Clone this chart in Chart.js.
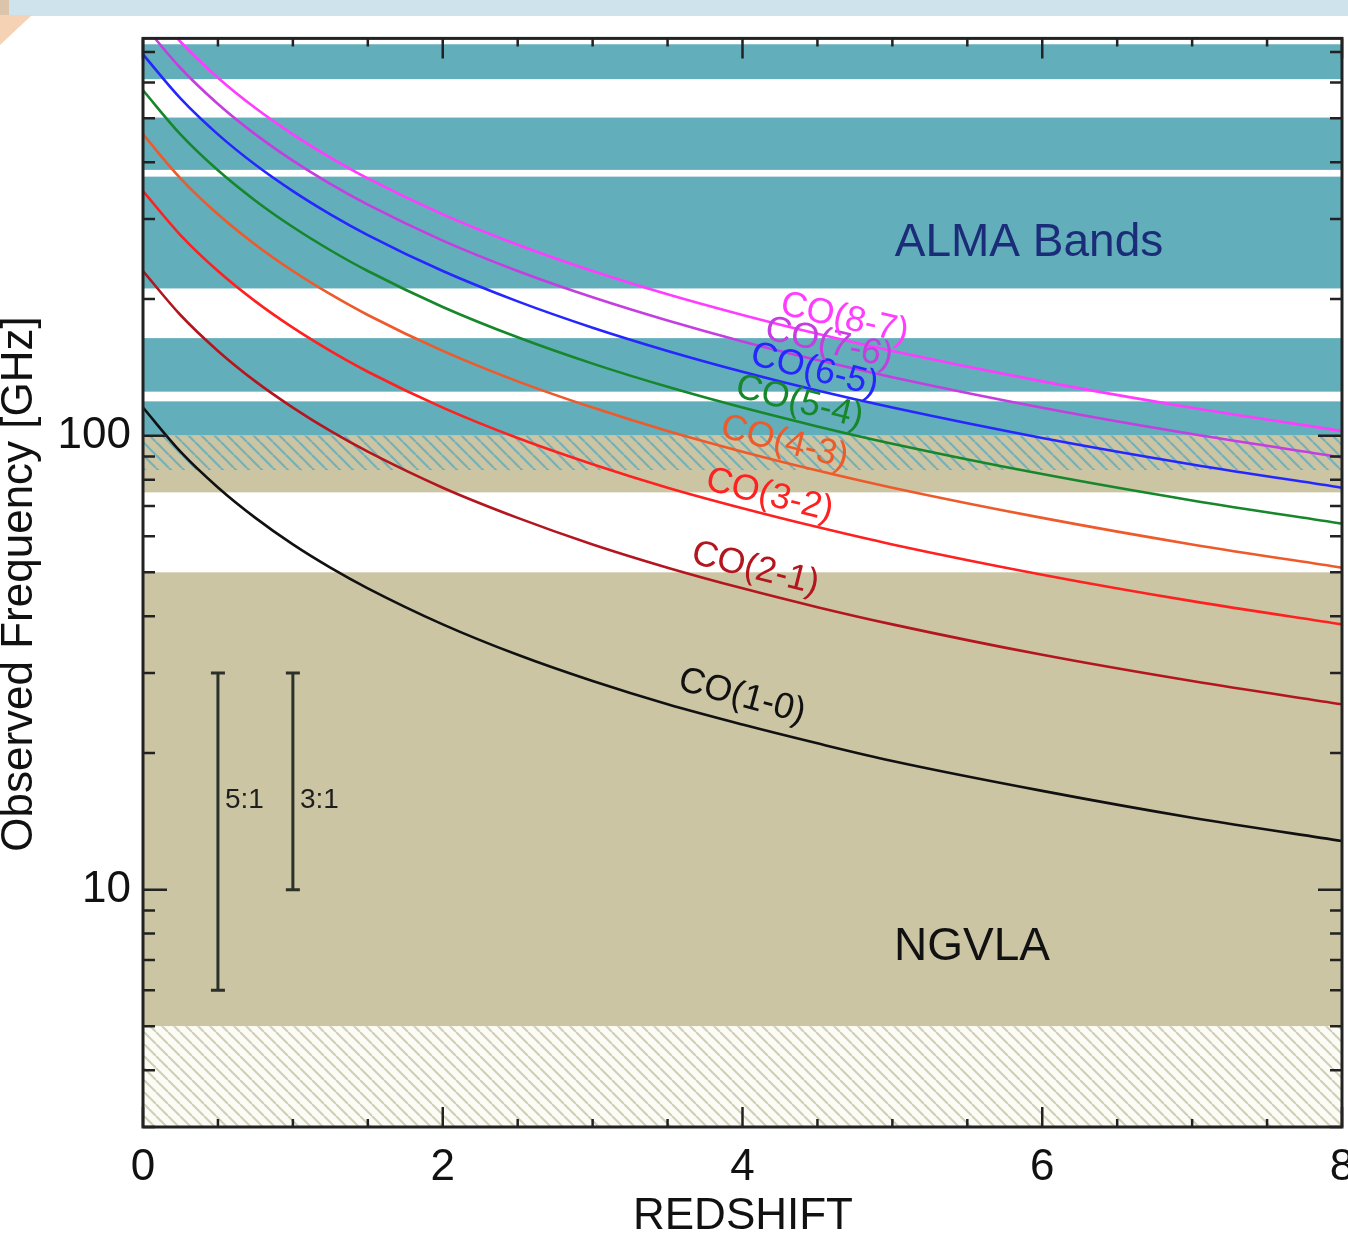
<!DOCTYPE html>
<html>
<head>
<meta charset="utf-8">
<title>CO ladder vs redshift</title>
<script src="https://cdn.jsdelivr.net/npm/chart.js@4.4.1/dist/chart.umd.min.js"></script>
<style>
body { margin: 0; background: #fff; }
#wrap { position: relative; width: 1348px; height: 1233px; }
</style>
</head>
<body>
<div id="wrap"><canvas id="chart"></canvas></div>
<script>
// redshift grid the CO tracks are read at
const redshifts = [0, 0.25, 0.5, 0.75, 1, 1.25, 1.5, 2, 2.5, 3, 3.5, 4, 4.5, 5, 6, 7, 8];
// observed frequency [GHz] of each CO transition
const co10 = [115.3, 92.2, 76.9, 65.9, 57.6, 51.2, 46.1, 38.4, 32.9, 28.8, 25.6, 23.1, 21.0, 19.2, 16.5, 14.4, 12.8];
const co21 = [230.5, 184.4, 153.7, 131.7, 115.3, 102.4, 92.2, 76.8, 65.9, 57.6, 51.2, 46.1, 41.9, 38.4, 32.9, 28.8, 25.6];
const co32 = [345.8, 276.6, 230.5, 197.6, 172.9, 153.7, 138.3, 115.3, 98.8, 86.5, 76.8, 69.2, 62.9, 57.6, 49.4, 43.2, 38.4];
const co43 = [461.0, 368.8, 307.3, 263.4, 230.5, 204.9, 184.4, 153.7, 131.7, 115.3, 102.4, 92.2, 83.8, 76.8, 65.9, 57.6, 51.2];
const co54 = [576.3, 461.0, 384.2, 329.3, 288.1, 256.1, 230.5, 192.1, 164.7, 144.1, 128.1, 115.3, 104.8, 96.0, 82.3, 72.0, 64.0];
const co65 = [691.5, 553.2, 461.0, 395.1, 345.7, 307.3, 276.6, 230.5, 197.6, 172.9, 153.7, 138.3, 125.7, 115.3, 98.8, 86.4, 76.8];
const co76 = [806.7, 645.4, 537.8, 461.0, 403.4, 358.5, 322.7, 268.9, 230.5, 201.7, 179.3, 161.3, 146.7, 134.5, 115.2, 100.8, 89.6];
const co87 = [921.8, 737.4, 614.5, 526.7, 460.9, 409.7, 368.7, 307.3, 263.4, 230.5, 204.8, 184.4, 167.6, 153.6, 131.7, 115.2, 102.4];
const lineNames = ["CO(1-0)", "CO(2-1)", "CO(3-2)", "CO(4-3)", "CO(5-4)", "CO(6-5)", "CO(7-6)", "CO(8-7)"];

// receiver bands [GHz]
const almaLow = [100, 125, 211, 385, 610];
const almaHigh = [119, 164, 372, 502, 728];
const ngvlaLow = [5, 75];
const ngvlaHigh = [50, 100];
const overlapBand = [84, 100];
const floorBand = [3, 5];

// bandwidth ratio bars
const ratioZ = [0.5, 1];
const ratioLow = [6, 10];
const ratioHigh = [30, 30];
const ratioText = ["5:1", "3:1"];

const xTickValues = [0, 0.5, 1, 1.5, 2, 2.5, 3, 3.5, 4, 4.5, 5, 5.5, 6, 6.5, 7, 7.5, 8];
const yTickValues = [3, 4, 5, 6, 7, 8, 9, 10, 20, 30, 40, 50, 60, 70, 80, 90, 100, 200, 300, 400, 500, 600, 700];
const yLabelled = [10, 100];

// styling
const FONT = "'Liberation Sans', Arial, Helvetica, sans-serif";
const lineColors = ["#111111", "#b3161e", "#ff2020", "#ee5a2a", "#16872a", "#2626ff", "#c43ee0", "#ff3cff"];
const labelAt = [3.95, 4.05, 4.15, 4.25, 4.35, 4.45, 4.55, 4.65];
const labelLift = [17, 12, 9, 9, 9, 9, 9, 11];
const TEAL = "#62aebb", TAN = "#cbc5a4";

function hatch(bg, fg, size, width) {
    let c = document.createElement("canvas");
    c.width = size; c.height = size;
    let g = c.getContext("2d");
    if (bg) { g.fillStyle = bg; g.fillRect(0, 0, size, size); }
    g.strokeStyle = fg; g.lineWidth = width;
    for (let k = -size; k <= size; k += size) {
        g.beginPath(); g.moveTo(k, 0); g.lineTo(k + size, size); g.stroke();
    }
    return g.createPattern(c, "repeat");
}

const decor = {
    id: "decor",
    beforeDraw(chart) {
        let ctx = chart.ctx;
        ctx.save();
        ctx.fillStyle = "#fff";
        ctx.fillRect(0, 0, chart.width, chart.height);
        // page strip + corner from the source screenshot
        ctx.fillStyle = "#cfe3ec";
        ctx.fillRect(9, 0, chart.width, 16);
        ctx.fillStyle = "#dcc4aa";
        ctx.fillRect(0, 0, 9, 15);
        ctx.fillStyle = "#f6d2b4";
        ctx.beginPath(); ctx.moveTo(0, 15); ctx.lineTo(32, 15); ctx.lineTo(0, 45); ctx.closePath(); ctx.fill();
        ctx.restore();
    },
    beforeDatasetsDraw(chart) {
        let { ctx, chartArea: a, scales } = chart;
        let y = scales.y, x = scales.x;
        let band = (lo, hi, fill) => {
            let t = y.getPixelForValue(hi), b = y.getPixelForValue(lo);
            ctx.fillStyle = fill;
            ctx.fillRect(a.left, t, a.right - a.left, b - t);
        };
        ctx.save();
        for (let i = 0; i < almaLow.length; i++) band(almaLow[i], almaHigh[i], TEAL);
        for (let i = 0; i < ngvlaLow.length; i++) band(ngvlaLow[i], ngvlaHigh[i], TAN);
        band(overlapBand[0], overlapBand[1], hatch(null, "#74b0b8", 13, 2.2));
        band(floorBand[0], floorBand[1], hatch("#fcfcf6", "#d2ceb3", 12, 2));

        // ratio bars
        ctx.strokeStyle = "#2b3029";
        ctx.lineWidth = 3;
        ctx.fillStyle = "#1e1e1e";
        ctx.font = "28px " + FONT;
        ctx.textBaseline = "middle";
        for (let i = 0; i < ratioZ.length; i++) {
            let px = x.getPixelForValue(ratioZ[i]);
            let top = y.getPixelForValue(ratioHigh[i]), bot = y.getPixelForValue(ratioLow[i]);
            ctx.beginPath();
            ctx.moveTo(px, top); ctx.lineTo(px, bot);
            ctx.moveTo(px - 7, top); ctx.lineTo(px + 7, top);
            ctx.moveTo(px - 7, bot); ctx.lineTo(px + 7, bot);
            ctx.stroke();
            ctx.fillText(ratioText[i], px + 7, 800);
        }
        ctx.restore();
    },
    afterDatasetsDraw(chart) {
        let { ctx, chartArea: a, scales } = chart;
        let x = scales.x, y = scales.y;
        ctx.save();
        // curve labels, laid along each track
        ctx.font = "36px " + FONT;
        ctx.textAlign = "center";
        ctx.textBaseline = "alphabetic";
        chart.data.datasets.forEach((ds, i) => {
            let pts = chart.getDatasetMeta(i).data;
            let px = x.getPixelForValue(labelAt[i]);
            let k = 1;
            while (k < pts.length - 1 && pts[k].x < px) k++;
            let p0 = pts[k - 1], p1 = pts[k];
            let f = (px - p0.x) / (p1.x - p0.x);
            let py = p0.y + f * (p1.y - p0.y);
            let ang = Math.atan2(p1.y - p0.y, p1.x - p0.x);
            ctx.save();
            ctx.translate(px, py);
            ctx.rotate(ang);
            ctx.fillStyle = lineColors[i];
            ctx.fillText(lineNames[i], 0, -labelLift[i]);
            ctx.restore();
        });

        // inward ticks on all four sides
        ctx.strokeStyle = "#222";
        ctx.lineWidth = 2.5;
        ctx.beginPath();
        xTickValues.forEach(v => {
            let px = x.getPixelForValue(v);
            let len = v % 2 === 0 ? 20 : 8;
            ctx.moveTo(px, a.bottom); ctx.lineTo(px, a.bottom - len);
            ctx.moveTo(px, a.top); ctx.lineTo(px, a.top + len);
        });
        yTickValues.forEach(v => {
            let py = y.getPixelForValue(v);
            let len = yLabelled.includes(v) ? 24 : 12;
            ctx.moveTo(a.left, py); ctx.lineTo(a.left + len, py);
            ctx.moveTo(a.right, py); ctx.lineTo(a.right - len, py);
        });
        ctx.stroke();
        ctx.lineWidth = 3;
        ctx.strokeRect(a.left, a.top, a.right - a.left, a.bottom - a.top);

        // annotations
        ctx.textAlign = "center";
        ctx.font = "46px " + FONT;
        ctx.fillStyle = "#1b2c78";
        ctx.fillText("ALMA Bands", 1029, 256);
        ctx.fillStyle = "#111";
        ctx.fillText("NGVLA", 972, 960);

        // axis titles
        ctx.font = "44px " + FONT;
        ctx.fillText("REDSHIFT", 743, 1229);
        ctx.translate(32, 584);
        ctx.rotate(-Math.PI / 2);
        ctx.fillText("Observed Frequency [GHz]", 0, 0);
        ctx.restore();
    }
};

const tracks = [co10, co21, co32, co43, co54, co65, co76, co87];
const datasets = tracks.map((vals, i) => ({
    label: lineNames[i],
    data: redshifts.map((z, n) => ({ x: z, y: vals[n] })),
    borderColor: lineColors[i],
    borderWidth: 2.6,
    pointRadius: 0,
    cubicInterpolationMode: "monotone",
    fill: false
}));

new Chart(document.getElementById("chart"), {
    type: "line",
    data: { datasets: datasets },
    plugins: [decor],
    options: {
        responsive: true,
        maintainAspectRatio: false,
        animation: false,
        layout: { padding: { top: 37, right: 6, left: 0, bottom: 0 } },
        plugins: { legend: { display: false }, tooltip: { enabled: false } },
        scales: {
            x: {
                type: "linear", min: 0, max: 8,
                grid: { display: false, drawTicks: false },
                border: { display: false },
                afterBuildTicks: s => { s.ticks = xTickValues.map(v => ({ value: v })); },
                afterFit: s => { s.height = 106; s.paddingLeft = 0; s.paddingRight = 0; },
                ticks: {
                    autoSkip: false, maxRotation: 0, padding: 14, color: "#111",
                    font: { family: FONT, size: 44 },
                    callback: v => (v % 2 === 0 ? String(v) : "")
                }
            },
            y: {
                type: "logarithmic", min: 3, max: 750,
                grid: { display: false, drawTicks: false },
                border: { display: false },
                afterBuildTicks: s => { s.ticks = yTickValues.map(v => ({ value: v })); },
                afterFit: s => { s.width = 143; },
                ticks: {
                    autoSkip: false, padding: 12, color: "#111",
                    font: { family: FONT, size: 44 },
                    callback: v => (yLabelled.includes(v) ? String(v) : "")
                }
            }
        }
    }
});
</script>
</body>
</html>
